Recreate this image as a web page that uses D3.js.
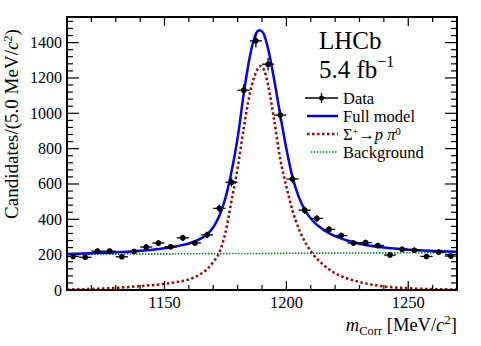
<!DOCTYPE html>
<html lang="en">
<head>
  <meta charset="UTF-8">
  <title>Sigma to p pi0 mass fit</title>
  <script src="https://cdnjs.cloudflare.com/ajax/libs/d3/7.6.1/d3.min.js"></script>
  <style>
    body { margin: 0; background: #fff; }
    text { font-family: "Liberation Serif", "Times New Roman", serif; fill: #000; }
    .frame { fill: none; stroke: #000; stroke-width: 2px; }
    .tick-line { stroke: #000; stroke-width: 1.2px; }
    .err { stroke: #000; stroke-width: 1.3px; }
  </style>
</head>
<body>
<div id="wrapper"></div>
<script>
// bin centres (5 MeV bins) and candidate counts
const binCenters = [1112.5, 1117.5, 1122.5, 1127.5, 1132.5, 1137.5, 1142.5, 1147.5,
                    1152.5, 1157.5, 1162.5, 1167.5, 1172.5, 1177.5, 1182.5, 1187.5,
                    1192.5, 1197.5, 1202.5, 1207.5, 1212.5, 1217.5, 1222.5, 1227.5,
                    1232.5, 1237.5, 1242.5, 1247.5, 1252.5, 1257.5, 1262.5, 1267.5];
const counts = [190, 185, 220, 220, 188, 218, 243, 266,
                245, 295, 266, 312, 462, 610, 1131, 1410,
                1278, 990, 628, 452, 405, 343, 308, 266,
                268, 252, 198, 230, 225, 190, 215, 192];

// full model curve
const fullX = [1110, 1120, 1130, 1140, 1145, 1150, 1155, 1160, 1165, 1167.5, 1170, 1172.5,
               1175, 1177.5, 1180, 1182.5, 1185, 1187.5, 1189, 1190.5, 1192.5, 1195,
               1197.5, 1200, 1202.5, 1205, 1207.5, 1210, 1215, 1220, 1225, 1230,
               1240, 1250, 1260, 1270];
const fullY = [204, 208, 213, 222, 228, 236, 248, 263, 292, 315, 355, 420,
               520, 670, 860, 1110, 1320, 1450, 1470, 1455, 1365, 1190,
               990, 800, 640, 530, 455, 405, 343, 305, 280, 262,
               240, 228, 221, 216];

// signal component
const sigX = [1110, 1120, 1130, 1140, 1150, 1155, 1160, 1165, 1167.5, 1170, 1172.5,
              1175, 1177.5, 1180, 1182.5, 1185, 1187.5, 1189.5, 1191, 1192.5, 1195,
              1197.5, 1200, 1202.5, 1205, 1207.5, 1210, 1215, 1220, 1225, 1230,
              1240, 1250, 1260, 1270];
const sigY = [3, 6, 12, 22, 35, 45, 60, 92, 118, 158, 212,
              325, 505, 690, 915, 1110, 1230, 1267, 1240, 1160, 960,
              740, 585, 450, 350, 275, 220, 145, 95, 65, 45,
              20, 10, 5, 3];

// background component
const bkgX = [1110, 1270];
const bkgY = [202, 212];

const xTicks = [1150, 1200, 1250];
const yTicks = [0, 200, 400, 600, 800, 1000, 1200, 1400];

const legendItems = ["Data", "Full model", "Sigma", "Background"];

var dimension = {
  width: 481,
  height: 346,
  margin: { top: 17, right: 24, bottom: 56, left: 67 }
};
dimension.boundedWidth = dimension.width - dimension.margin.left - dimension.margin.right;
dimension.boundedHeight = dimension.height - dimension.margin.top - dimension.margin.bottom;

const svg = d3.select("#wrapper").append("svg")
  .attr("width", dimension.width)
  .attr("height", dimension.height);

const bounds = svg.append("g")
  .attr("transform", `translate(${dimension.margin.left},${dimension.margin.top})`);

const x = d3.scaleLinear().domain([1110, 1270]).range([0, dimension.boundedWidth]);
const y = d3.scaleLinear().domain([0, 1545]).range([dimension.boundedHeight, 0]);

// ticks (ROOT style: inside, mirrored on top and right)
const W = dimension.boundedWidth, H = dimension.boundedHeight;
const xMinor = d3.range(1120, 1270, 10);
const yMinor = d3.range(0, 1545, 40);
const tickG = bounds.append("g");
xMinor.forEach(v => {
  const len = v % 50 === 0 ? 9 : 5;
  tickG.append("line").attr("class", "tick-line")
    .attr("x1", x(v)).attr("x2", x(v)).attr("y1", H).attr("y2", H - len);
  tickG.append("line").attr("class", "tick-line")
    .attr("x1", x(v)).attr("x2", x(v)).attr("y1", 0).attr("y2", len);
});
yMinor.forEach(v => {
  const len = v % 200 === 0 ? 12 : 6;
  tickG.append("line").attr("class", "tick-line")
    .attr("x1", 0).attr("x2", len).attr("y1", y(v)).attr("y2", y(v));
  tickG.append("line").attr("class", "tick-line")
    .attr("x1", W).attr("x2", W - len).attr("y1", y(v)).attr("y2", y(v));
});

bounds.append("g").selectAll("text").data(xTicks).enter().append("text")
  .attr("x", d => x(d)).attr("y", H + 18)
  .attr("text-anchor", "middle").style("font-size", "16.5px")
  .text(d => d);

bounds.append("g").selectAll("text").data(yTicks).enter().append("text")
  .attr("x", -5).attr("y", d => y(d) + 5.5)
  .attr("text-anchor", "end").style("font-size", "16px")
  .text(d => d);

// curves
const line = (xs, ys) => d3.line()
  .x(i => x(xs[i])).y(i => y(ys[i]))
  .curve(d3.curveMonotoneX)(d3.range(xs.length));

bounds.append("path").attr("d", line(bkgX, bkgY))
  .attr("fill", "none").attr("stroke", "#00892a").attr("stroke-width", 1.6)
  .attr("stroke-dasharray", "1.5,1.5");

bounds.append("path").attr("d", line(sigX, sigY))
  .attr("fill", "none").attr("stroke", "#a00000").attr("stroke-width", 2.5)
  .attr("stroke-dasharray", "2.5,2.5");

bounds.append("path").attr("d", line(fullX, fullY))
  .attr("fill", "none").attr("stroke", "#0000ff").attr("stroke-width", 2.5);

// data points
const pts = bounds.append("g").selectAll("g").data(binCenters).enter().append("g");
pts.append("line").attr("class", "err")
  .attr("x1", d => x(d - 2.5)).attr("x2", d => x(d + 2.5))
  .attr("y1", (d, i) => y(counts[i])).attr("y2", (d, i) => y(counts[i]));
pts.append("line").attr("class", "err")
  .attr("x1", d => x(d)).attr("x2", d => x(d))
  .attr("y1", (d, i) => y(counts[i] - Math.sqrt(counts[i])))
  .attr("y2", (d, i) => y(counts[i] + Math.sqrt(counts[i])));
pts.append("circle")
  .attr("cx", d => x(d)).attr("cy", (d, i) => y(counts[i]))
  .attr("r", 2.8).attr("fill", "#000");

bounds.append("rect").attr("class", "frame")
  .attr("width", W).attr("height", H);

// axis titles
svg.append("text")
  .attr("transform", "translate(18,124) rotate(-90)")
  .attr("text-anchor", "middle").style("font-size", "19px")
  .call(t => {
    t.append("tspan").text("Candidates/(5.0 MeV/");
    t.append("tspan").style("font-style", "italic").text("c");
    t.append("tspan").attr("dy", -6).style("font-size", "12.5px").text("2");
    t.append("tspan").attr("dy", 6).text(")");
  });

svg.append("text")
  .attr("x", dimension.margin.left + W).attr("y", 331)
  .attr("text-anchor", "end").style("font-size", "18.5px")
  .call(t => {
    t.append("tspan").style("font-style", "italic").text("m");
    t.append("tspan").attr("dy", 4).style("font-size", "12.5px").text("Corr");
    t.append("tspan").attr("dy", -4).text(" [MeV/");
    t.append("tspan").style("font-style", "italic").text("c");
    t.append("tspan").attr("dy", -7).style("font-size", "13px").text("2");
    t.append("tspan").attr("dy", 7).text("]");
  });

// LHCb label
svg.append("text").attr("x", 319).attr("y", 49).style("font-size", "25px").text("LHCb");
svg.append("text").attr("x", 319).attr("y", 78).style("font-size", "25px")
  .call(t => {
    t.append("tspan").text("5.4 fb");
    t.append("tspan").attr("dy", -11).style("font-size", "16px").text("\u22121");
  });

// legend
const legend = svg.append("g").attr("transform", "translate(305,98)");
const rowH = 18;
legendItems.forEach((name, i) => {
  const g = legend.append("g").attr("transform", `translate(0,${i * rowH})`);
  if (name === "Data") {
    g.append("line").attr("class", "err").attr("x1", 0).attr("x2", 33).attr("y1", 0).attr("y2", 0);
    g.append("line").attr("class", "err").attr("x1", 16.5).attr("x2", 16.5).attr("y1", -5).attr("y2", 5);
    g.append("circle").attr("cx", 16.5).attr("cy", 0).attr("r", 2.5).attr("fill", "#000");
  } else if (name === "Full model") {
    g.append("line").attr("x1", 2).attr("x2", 33).attr("y1", 0).attr("y2", 0)
      .attr("stroke", "#0000ff").attr("stroke-width", 2.5);
  } else if (name === "Sigma") {
    g.append("line").attr("x1", 2).attr("x2", 33).attr("y1", 0).attr("y2", 0)
      .attr("stroke", "#a00000").attr("stroke-width", 2.5).attr("stroke-dasharray", "2.5,2.5");
  } else {
    g.append("line").attr("x1", 6).attr("x2", 33).attr("y1", 0).attr("y2", 0)
      .attr("stroke", "#00892a").attr("stroke-width", 1.6).attr("stroke-dasharray", "1.5,1.5");
  }
  const t = g.append("text").attr("x", 38).attr("y", 5.5).style("font-size", "16.5px");
  if (name === "Sigma") {
    t.append("tspan").text("\u03A3");
    t.append("tspan").attr("dy", -5).style("font-size", "10px").text("+");
    t.append("tspan").attr("dy", 5).text("\u2192");
    t.append("tspan").style("font-style", "italic").text("p \u03C0");
    t.append("tspan").attr("dy", -5).style("font-size", "10.5px").text("0");
  } else {
    t.text(name);
  }
});
</script>
</body>
</html>
